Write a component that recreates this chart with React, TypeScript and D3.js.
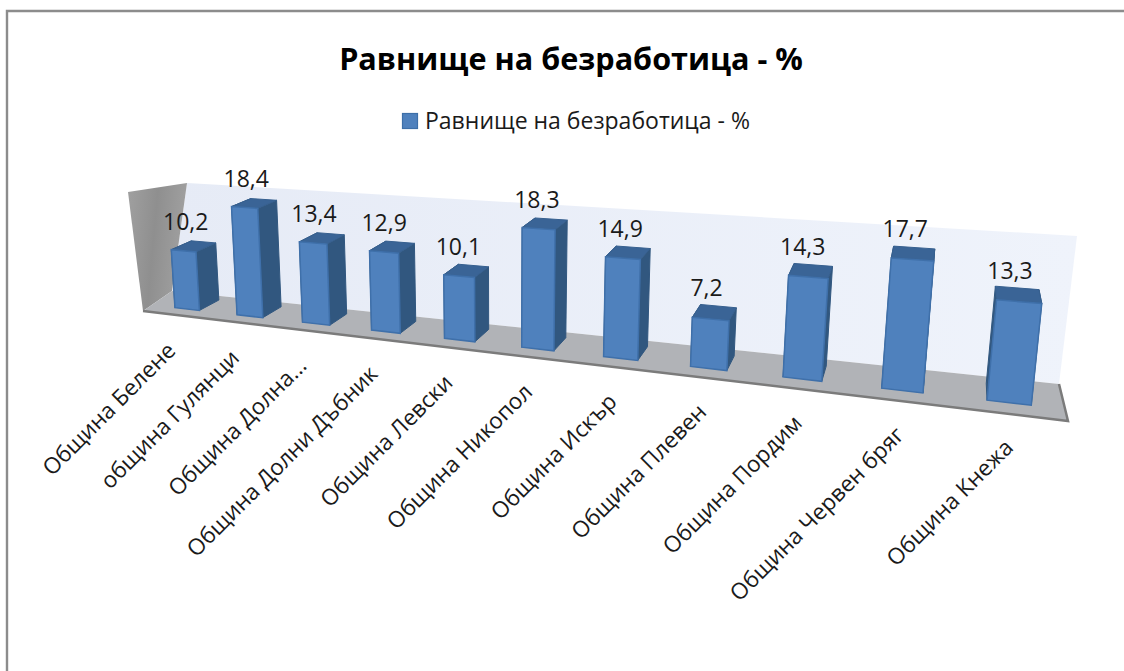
import React from "react";
import * as d3 from "d3";

const categories = ["Община Белене","община Гулянци","Община Долна...","Община Долни Дъбник","Община Левски","Община Никопол","Община Искър","Община Плевен","Община Пордим","Община Червен бряг","Община Кнежа"];
const values = [10.2,18.4,13.4,12.9,10.1,18.3,14.9,7.2,14.3,17.7,13.3];
const valueLabels = ["10,2","18,4","13,4","12,9","10,1","18,3","14,9","7,2","14,3","17,7","13,3"];
const TITLE = "Равнище на безработица - %";
const FONT = "'Open Sans', 'Noto Sans', sans-serif";
const W = 1124, H = 671;
const zF = 0.27, zB = 0.85;

const band = d3.scaleBand<string>().domain(categories).range([0,1]).paddingInner(0.6).paddingOuter(0.3);
const val = d3.scaleLinear().domain([0,20]).range([0,1]);

// frame of the 3D plot on screen
type Pt = [number,number];
const floorFL:Pt=[143,311], floorBL:Pt=[172,291], floorBR:Pt=[1059,384], floorFR:Pt=[1068,421];
const wallTF:Pt=[128,192], wallTB:Pt=[187,183], wallTR:Pt=[1077,236];

// camera calibration: [u (axis share), v (height share), z (depth share), screen x, screen y]
const b = (i:number,t:number)=> (i+0.3+0.4*t)/11;
const anchors:number[][] = [
 [0,0,0,...floorFL],[0,0,1,...floorBL],[1,0,1,...floorBR],[1,0,0,...floorFR],
 [b(0,0),0,zF,178,308],[b(0,1),0,zF,202,310],[b(0,0),.51,zF,172,250],[b(0,1),.51,zF,197,252],
 [b(0,1),.51,zB,219,245],[b(0,1),0,zB,225,300],
 [b(5,0),0,zF,522,347],[b(5,1),0,zF,554,351],[b(5,0),.915,zF,519,225],[b(5,1),.915,zF,553,228],
 [b(5,1),.915,zB,568,221],[b(5,1),0,zB,569,340],
 [b(7,0),0,zF,690,366],[b(7,1),0,zF,727,370],[b(7,0),.36,zF,691,317],[b(7,1),.36,zF,728,321],
 [b(10,0),0,zF,985,400],[b(10,1),0,zF,1032,404],[b(10,0),.665,zF,998,300],[b(10,1),.665,zF,1043,303],
 [b(10,0),.665,zB,995,288],[b(10,1),.665,zB,1040,291],
];

function solve(A:number[][],B:number[]){
  const n=B.length; const M=A.map((r,i)=>[...r,B[i]]);
  for(let c=0;c<n;c++){
    let p=c; for(let r=c+1;r<n;r++) if(Math.abs(M[r][c])>Math.abs(M[p][c])) p=r;
    [M[c],M[p]]=[M[p],M[c]];
    for(let r=0;r<n;r++) if(r!==c){ const f=M[r][c]/M[c][c]; for(let k=c;k<=n;k++) M[r][k]-=f*M[c][k]; }
  }
  return M.map((r,i)=>r[n]/r[i]);
}
function calibrate(){
  const rows:number[][]=[],rhs:number[]=[];
  anchors.forEach(([u,v,z,x,y])=>{
    rows.push([u,v,z,1,0,0,0,0,-x*u,-x*v,-x*z]); rhs.push(x);
    rows.push([0,0,0,0,u,v,z,1,-y*u,-y*v,-y*z]); rhs.push(y);
  });
  const N=Array.from({length:11},(_,i)=>Array.from({length:11},(_,j)=>d3.sum(rows,r=>r[i]*r[j])));
  const R=Array.from({length:11},(_,i)=>d3.sum(rows,(r,k)=>r[i]*rhs[k]));
  return solve(N,R);
}
const P=calibrate();
const project=(u:number,v:number,z:number):Pt=>{
  const w=P[8]*u+P[9]*v+P[10]*z+1;
  return [(P[0]*u+P[1]*v+P[2]*z+P[3])/w,(P[4]*u+P[5]*v+P[6]*z+P[7])/w];
};
const poly=d3.line<Pt>().curve(d3.curveLinearClosed);

export default function App(){
  const bw=band.bandwidth();
  return (
    <svg width={W} height={H} viewBox={`0 0 ${W} ${H}`} style={{position:"absolute",left:0,top:0,background:"#fff"}} fontFamily={FONT}>
      <defs>
        <linearGradient id="wallL" x1="0" x2="1" y1="0" y2="0.2"><stop offset="0" stopColor="#a0a0a0"/><stop offset="0.5" stopColor="#8f8f8f"/><stop offset="1" stopColor="#a0a0a0"/></linearGradient>
        <linearGradient id="wallB" x1="0" x2="1" y1="0" y2="0"><stop offset="0" stopColor="#e6ebf6"/><stop offset="1" stopColor="#eff3fb"/></linearGradient>
      </defs>
      <path d="M7 671V11H1124" fill="none" stroke="#8c8c8c" strokeWidth={2.4}/>
      <text x={571} y={58} textAnchor="middle" dominantBaseline="central" fontSize={30.6} fontWeight={700} fill="#000">{TITLE}</text>
      <rect x={402.5} y={113.5} width={15} height={15} fill="#4f81bd" stroke="#3d6fa8" strokeWidth={1.2}/>
      <text x={425} y={120} dominantBaseline="central" fontSize={23} fill="#1a1a1a">{TITLE}</text>

      <path d={poly([floorBL,wallTB,wallTR,floorBR])!} fill="url(#wallB)"/>
      <path d={poly([floorFL,wallTF,wallTB,floorBL])!} fill="url(#wallL)"/>
      <path d={poly([floorFL,floorBL,floorBR,floorFR])!} fill="#b1b3b7"/>
      <path d={d3.line()([floorFL,floorFR,floorBR])!} fill="none" stroke="#7b7b7b" strokeWidth={2.5}/>

      {categories.map((c,i)=>{
        const u0=band(c)!,u1=u0+bw,v=val(values[i]);
        const A=(u:number,vv:number,z:number)=>project(u,vv,z);
        return <g key={c}>
          <path d={poly([A(u0,0,zF),A(u0,v,zF),A(u0,v,zB),A(u0,0,zB)])!} fill="#31577f" stroke="#31577f"/>
          <path d={poly([A(u1,0,zF),A(u1,v,zF),A(u1,v,zB),A(u1,0,zB)])!} fill="#31577f" stroke="#31577f"/>
          <path d={poly([A(u0,v,zF),A(u1,v,zF),A(u1,v,zB),A(u0,v,zB)])!} fill="#3a6496" stroke="#37608f"/>
          <path d={poly([A(u0,0,zF),A(u0,v,zF),A(u1,v,zF),A(u1,0,zF)])!} fill="#4f81bd" stroke="#3f70aa" strokeWidth={1.5}/>
        </g>;
      })}

      {categories.map((c,i)=>{
        const um=band(c)!+bw/2;
        const [x,y]=project(um,val(values[i]),(zF+zB)/2);
        return <text key={c} x={x-8} y={y-25} textAnchor="middle" dominantBaseline="central" fontSize={23} fill="#1a1a1a">{valueLabels[i]}</text>;
      })}
      {categories.map((c,i)=>{
        const um=band(c)!+bw/2;
        const [x,y]=project(um,0,0);
        return <text key={c} transform={`translate(${x-7+6*um},${y+32}) rotate(-45)`} textAnchor="end" dominantBaseline="central" fontSize={22.5} fill="#1a1a1a">{c}</text>;
      })}
    </svg>
  );
}
